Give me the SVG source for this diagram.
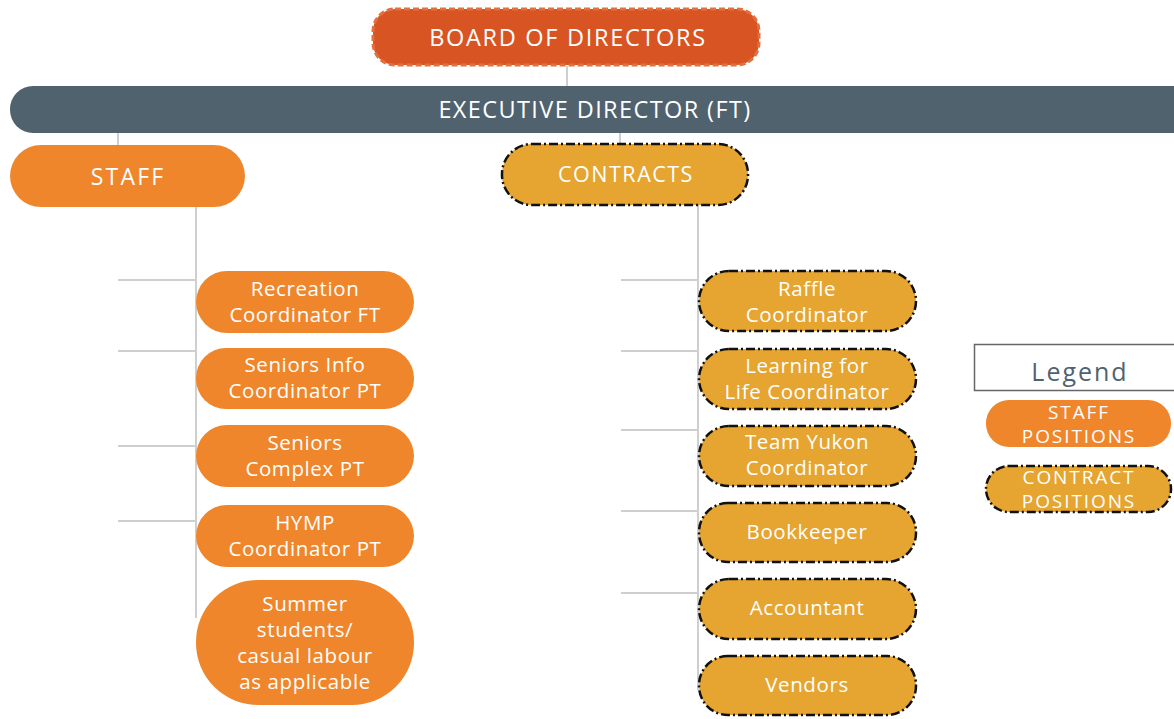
<svg xmlns="http://www.w3.org/2000/svg" width="1174" height="719" viewBox="0 0 1174 719">
<style>
.t{font-family:"Open Sans","Liberation Sans",sans-serif;fill:#fff;text-anchor:middle}
.c{font-size:20.5px;letter-spacing:0.6px}
.lg{font-size:19px;letter-spacing:1.9px}
.staff{fill:#F0862B}
.contract{fill:#E5A530;stroke:#111;stroke-width:2.5;stroke-dasharray:9 3 2 3}
.ln{stroke:#cfcfcf;stroke-width:2;fill:none}
</style>
<rect width="1174" height="719" fill="#fff"/>
<g id="connectors">
<line class="ln" x1="567" y1="66" x2="567" y2="86"/>
<line class="ln" x1="118" y1="133" x2="118" y2="145"/>
<line class="ln" x1="620" y1="133" x2="620" y2="143"/>
<line class="ln" x1="196" y1="207" x2="196" y2="618"/>
<line class="ln" x1="118" y1="280" x2="196" y2="280"/>
<line class="ln" x1="118" y1="351" x2="196" y2="351"/>
<line class="ln" x1="118" y1="446" x2="196" y2="446"/>
<line class="ln" x1="118" y1="521" x2="196" y2="521"/>
<line class="ln" x1="698" y1="205" x2="698" y2="690"/>
<line class="ln" x1="621" y1="280" x2="698" y2="280"/>
<line class="ln" x1="621" y1="351" x2="698" y2="351"/>
<line class="ln" x1="621" y1="430" x2="698" y2="430"/>
<line class="ln" x1="621" y1="511" x2="698" y2="511"/>
<line class="ln" x1="621" y1="593" x2="698" y2="593"/>
</g>
<g id="board">
<rect x="373" y="9" width="386" height="56" rx="22" fill="#D85523" stroke="#E2703F" stroke-width="3" stroke-dasharray="6 3"/>
<text class="t" x="568" y="46" font-size="23.5" letter-spacing="1.7">BOARD OF DIRECTORS</text>
</g>
<g id="executive">
<rect x="10" y="86" width="1190" height="47" rx="23" fill="#51626F"/>
<text class="t" x="595" y="118" font-size="23.5" letter-spacing="1.4">EXECUTIVE DIRECTOR (FT)</text>
</g>
<g id="staff">
<rect class="staff" x="10" y="145" width="235" height="62" rx="31"/>
<text class="t" x="128" y="185" font-size="23" letter-spacing="2.2">STAFF</text>
</g>
<g id="contracts">
<rect class="contract" x="502" y="144" width="246" height="61" rx="30"/>
<text class="t" x="626" y="182" font-size="21.5" letter-spacing="1.5">CONTRACTS</text>
</g>
<g id="recreation">
<rect class="staff" x="196" y="271" width="218" height="62" rx="31"/>
<text class="t c" x="305" y="296">Recreation</text>
<text class="t c" x="305" y="322">Coordinator FT</text>
</g>
<g id="seniors-info">
<rect class="staff" x="196" y="348" width="218" height="61" rx="30"/>
<text class="t c" x="305" y="372">Seniors Info</text>
<text class="t c" x="305" y="398">Coordinator PT</text>
</g>
<g id="seniors-complex">
<rect class="staff" x="196" y="425" width="218" height="62" rx="31"/>
<text class="t c" x="305" y="450">Seniors</text>
<text class="t c" x="305" y="476">Complex PT</text>
</g>
<g id="hymp">
<rect class="staff" x="196" y="505" width="218" height="62" rx="31"/>
<text class="t c" x="305" y="530">HYMP</text>
<text class="t c" x="305" y="556">Coordinator PT</text>
</g>
<g id="summer">
<rect class="staff" x="196" y="580" width="218" height="125" rx="62"/>
<text class="t c" x="305" y="611">Summer</text>
<text class="t c" x="305" y="637">students/</text>
<text class="t c" x="305" y="663">casual labour</text>
<text class="t c" x="305" y="689">as applicable</text>
</g>
<g id="raffle">
<rect class="contract" x="699" y="271" width="217" height="60" rx="30"/>
<text class="t c" x="807" y="296">Raffle</text>
<text class="t c" x="807" y="322">Coordinator</text>
</g>
<g id="learning">
<rect class="contract" x="699" y="349" width="217" height="60" rx="30"/>
<text class="t c" x="807" y="373">Learning for</text>
<text class="t c" x="807" y="399">Life Coordinator</text>
</g>
<g id="team-yukon">
<rect class="contract" x="699" y="426" width="217" height="60" rx="30"/>
<text class="t c" x="807" y="449">Team Yukon</text>
<text class="t c" x="807" y="475">Coordinator</text>
</g>
<g id="bookkeeper">
<rect class="contract" x="699" y="503" width="217" height="59" rx="29"/>
<text class="t c" x="807" y="539">Bookkeeper</text>
</g>
<g id="accountant">
<rect class="contract" x="699" y="579" width="217" height="60" rx="30"/>
<text class="t c" x="807" y="615">Accountant</text>
</g>
<g id="vendors">
<rect class="contract" x="699" y="656" width="217" height="59" rx="29"/>
<text class="t c" x="807" y="692">Vendors</text>
</g>
<g id="legend">
<rect x="974.5" y="344.5" width="205" height="46" fill="#fff" stroke="#666" stroke-width="1.5"/>
<text x="1080" y="381" font-family="Open Sans, Liberation Sans, sans-serif" font-size="25" letter-spacing="2" fill="#51626F" text-anchor="middle">Legend</text>
</g>
<g id="legend-staff">
<rect class="staff" x="986" y="400" width="185" height="47" rx="23"/>
<text class="t lg" x="1079" y="419">STAFF</text>
<text class="t lg" x="1079" y="443">POSITIONS</text>
</g>
<g id="legend-contract">
<rect class="contract" x="986" y="466" width="185" height="46" rx="23"/>
<text class="t lg" x="1079" y="484">CONTRACT</text>
<text class="t lg" x="1079" y="508">POSITIONS</text>
</g>
</svg>
